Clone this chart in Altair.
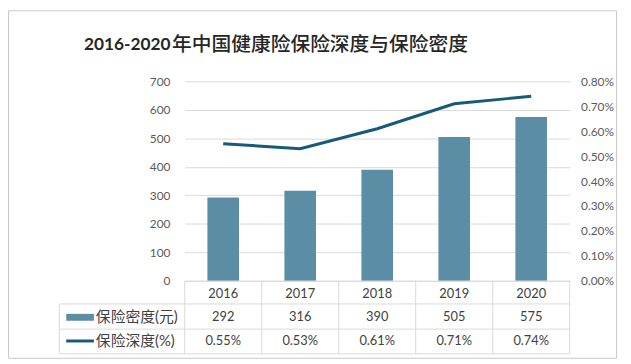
import altair as alt
import pandas as pd

years = ["2016", "2017", "2018", "2019", "2020"]
density = [292, 316, 390, 505, 575]            # 保险密度(元)
depth = [0.0055, 0.0053, 0.0061, 0.0071, 0.0074]  # 保险深度(%)
left_ticks = [0, 100, 200, 300, 400, 500, 600, 700]
right_ticks = [0, 0.001, 0.002, 0.003, 0.004, 0.005, 0.006, 0.007, 0.008]
title_head = "2016-2020"
title_tail = "年中国健康险保险深度与保险密度"
density_name = "保险密度(元)"
depth_name = "保险深度(%)"

BAR = "#5B8DA5"
LINE = "#165A7A"
GRID = "#D9D9D9"
TXT = "#404040"
FONT = "Lato, Noto Sans CJK SC"

df = pd.DataFrame({"year": years, "density": density, "depth": depth})
base = alt.Chart(df)

xband = alt.X("year:O", axis=None,
              scale=alt.Scale(paddingInner=0, paddingOuter=0))

bars = base.mark_bar(size=32, color=BAR).encode(
    x=xband,
    y=alt.Y("density:Q", title=None,
            scale=alt.Scale(domain=[0, 700], nice=False),
            axis=alt.Axis(values=left_ticks, grid=True, gridColor=GRID,
                          domain=False, ticks=False, labelPadding=15,
                          labelColor="#595959", labelFontSize=12,
                          labelFont=FONT)),
)

line = base.mark_line(color=LINE, strokeWidth=3).encode(
    x=xband,
    y=alt.Y("depth:Q", title=None,
            scale=alt.Scale(domain=[0, 0.008], nice=False),
            axis=alt.Axis(orient="right", values=right_ticks, format=".2%",
                          grid=False, domain=False, ticks=False,
                          labelPadding=11, labelColor="#595959",
                          labelFontSize=12, labelFont=FONT)),
)

# table grid
vrules = base.mark_rule(color=GRID).encode(
    x=alt.X("year:O", bandPosition=0, axis=None),
    y=alt.value(202), y2=alt.value(276))
vlast = base.transform_filter(alt.datum.year == years[-1]).mark_rule(color=GRID).encode(
    x=alt.X("year:O", bandPosition=1, axis=None),
    y=alt.value(202), y2=alt.value(276))
first = base.transform_filter(alt.datum.year == years[0])
vleft = first.mark_rule(color=GRID).encode(
    x=alt.value(-127), y=alt.value(225.5), y2=alt.value(276))
htop = first.mark_rule(color=GRID).encode(
    x=alt.value(0), x2=alt.value(390), y=alt.value(202.5))
hrows = [
    first.mark_rule(color=GRID).encode(
        x=alt.value(-127), x2=alt.value(390), y=alt.value(yy))
    for yy in (225.5, 251, 276)
]

txt = dict(font=FONT, fontSize=13, color=TXT, baseline="middle", align="center")
year_txt = base.mark_text(**txt).encode(x=xband, y=alt.value(215), text="year:N")
dens_txt = base.mark_text(**txt).encode(x=xband, y=alt.value(239), text="density:Q")
depth_txt = base.mark_text(**txt).encode(
    x=xband, y=alt.value(263), text=alt.Text("depth:Q", format=".2%"))

sw1 = first.mark_rect(color=BAR).encode(
    x=alt.value(-120), x2=alt.value(-92), y=alt.value(235.5), y2=alt.value(242.5))
sw2 = first.mark_rule(color=LINE, strokeWidth=3).encode(
    x=alt.value(-120), x2=alt.value(-92), y=alt.value(263))
lab = dict(font=FONT, fontSize=15, color=TXT, baseline="middle", align="left")
lab1 = first.mark_text(**lab).encode(
    x=alt.value(-90), y=alt.value(239), text=alt.value(density_name))
lab2 = first.mark_text(**lab).encode(
    x=alt.value(-90), y=alt.value(263), text=alt.value(depth_name))

title1 = first.mark_text(font=FONT, fontSize=17.5, fontWeight="bold", color="#262626",
                         baseline="middle", align="left").encode(
    x=alt.value(-102), y=alt.value(-37), text=alt.value(title_head))
title2 = first.mark_text(font="Noto Sans CJK SC", fontSize=20, fontWeight=500,
                         color="#262626", baseline="middle", align="right").encode(
    x=alt.value(287), y=alt.value(-37), text=alt.value(title_tail))

frame = first.mark_rect(fill=None, stroke="#C8C8C8", strokeWidth=1).encode(
    x=alt.value(-178.5), x2=alt.value(437.5), y=alt.value(-71.5), y2=alt.value(280.5))

chart = alt.layer(
    bars, line, vrules, vlast, vleft, htop, *hrows,
    year_txt, dens_txt, depth_txt, sw1, sw2, lab1, lab2, title1, title2, frame
).resolve_scale(y="independent").properties(
    width=390, height=202,
    padding={"left": 179, "top": 72, "right": 54, "bottom": 82},
    autosize=alt.AutoSizeParams(type="none"),
    background="white",
).configure_view(stroke=None)

chart.save("out.html", embed_options={"renderer": "svg", "actions": False})
